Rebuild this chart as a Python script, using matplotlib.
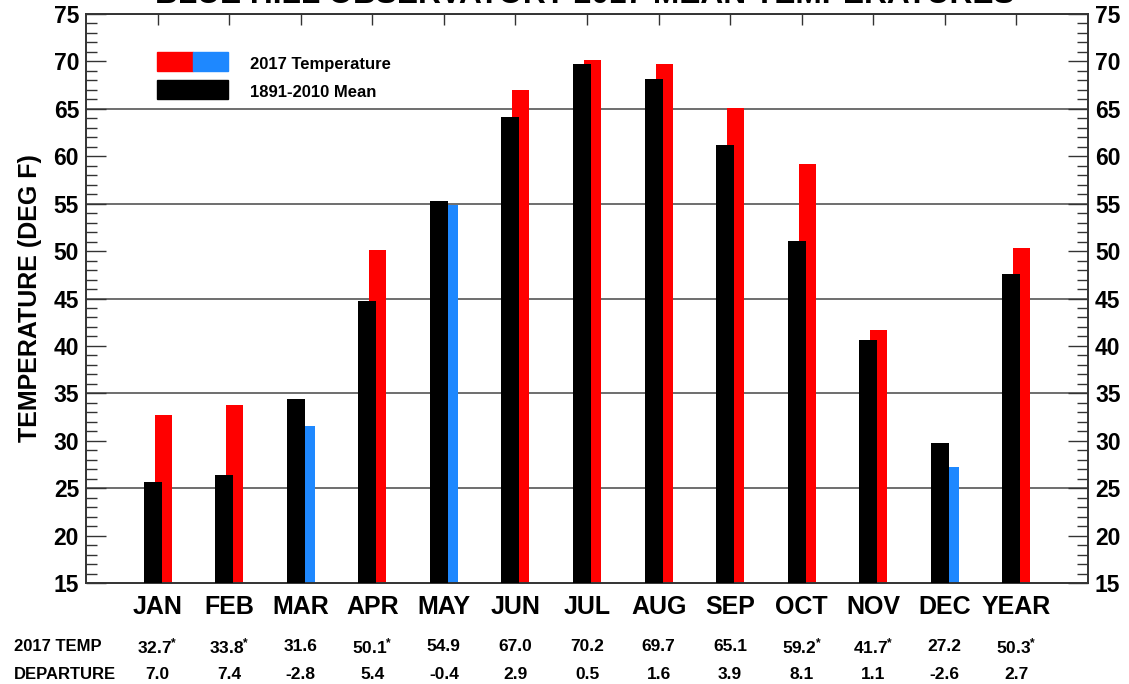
import matplotlib
matplotlib.use("Agg")
import matplotlib.pyplot as plt
import matplotlib.transforms as mtransforms
from matplotlib.patches import Rectangle
from matplotlib.ticker import MultipleLocator

# ---- data ----
months = ["JAN", "FEB", "MAR", "APR", "MAY", "JUN", "JUL", "AUG", "SEP", "OCT", "NOV", "DEC", "YEAR"]
temp_2017 = [32.7, 33.8, 31.6, 50.1, 54.9, 67.0, 70.2, 69.7, 65.1, 59.2, 41.7, 27.2, 50.3]
departure = [7.0, 7.4, -2.8, 5.4, -0.4, 2.9, 0.5, 1.6, 3.9, 8.1, 1.1, -2.6, 2.7]
mean_1891_2010 = [25.7, 26.4, 34.4, 44.7, 55.3, 64.1, 69.7, 68.1, 61.2, 51.1, 40.6, 29.8, 47.6]
record_flag = [1, 1, 0, 1, 0, 0, 0, 0, 0, 1, 1, 0, 1]
grid_levels = [25, 35, 45, 55, 65, 75]
title = "BLUE HILL OBSERVATORY 2017 MEAN TEMPERATURES"

RED = "#ff0000"
BLUE = "#1e88ff"

plt.rcParams["font.family"] = ["Liberation Sans", "DejaVu Sans"]
plt.rcParams["font.weight"] = "bold"
plt.rcParams["mathtext.fontset"] = "custom"
plt.rcParams["mathtext.rm"] = "Liberation Sans:bold"
plt.rcParams["mathtext.it"] = "Liberation Sans:bold"
plt.rcParams["mathtext.bf"] = "Liberation Sans:bold"

fig = plt.figure(figsize=(11.29, 6.84), dpi=100)
ax = fig.add_axes([86 / 1129, 1 - 583 / 684, 1002 / 1129, 569 / 684])

x = list(range(1, len(months) + 1))
colors = [RED if d >= 0 else BLUE for d in departure]
ax.bar([xi + 0.077 for xi in x], temp_2017, width=0.237, color=colors, zorder=2, bottom=0)
ax.bar([xi - 0.07 for xi in x], mean_1891_2010, width=0.25, color="black", zorder=3)

for g in grid_levels:
    ax.axhline(g, color="#555555", lw=1.2, zorder=1)

ax.set_xlim(0, 14)
ax.set_ylim(15, 75)

# ticks
ax.set_xticks(x)
ax.tick_params(axis="x", which="both", bottom=False, top=True, labelbottom=False,
               direction="in", length=8, width=1, color="#333333")
ax.yaxis.set_major_locator(MultipleLocator(5))
ax.yaxis.set_minor_locator(MultipleLocator(1))
ax.tick_params(axis="y", which="major", left=True, right=True, labelleft=True, labelright=True,
               direction="in", length=14.5, width=1, color="#333333", labelsize=16.5, pad=5)
ax.tick_params(axis="y", which="minor", left=True, right=True,
               direction="in", length=8, width=1, color="#333333")
for lab in ax.get_yticklabels():
    lab.set_fontweight("bold")
for s in ax.spines.values():
    s.set_linewidth(1.4)
    s.set_color("#333333")

ax.set_ylabel("TEMPERATURE (DEG F)", fontsize=18, fontweight="bold", labelpad=8)

# title (cut off at top of the image)
fig.text(0.518, 1 - 3 / 684, title, ha="center", va="baseline", fontsize=22.8, fontweight="bold")

# legend drawn manually
ax.add_patch(Rectangle((0.0709, 0.8998), 0.0359, 0.0334, transform=ax.transAxes, color=RED, zorder=5))
ax.add_patch(Rectangle((0.1068, 0.8998), 0.0349, 0.0334, transform=ax.transAxes, color=BLUE, zorder=5))
ax.add_patch(Rectangle((0.0709, 0.8506), 0.0708, 0.0334, transform=ax.transAxes, color="black", zorder=5))
ax.text(0.1637, 0.9104, "2017 Temperature", transform=ax.transAxes, ha="left", va="center",
        fontsize=12, fontweight="bold")
ax.text(0.1637, 0.8612, "1891-2010 Mean", transform=ax.transAxes, ha="left", va="center",
        fontsize=12, fontweight="bold")

# table below the chart
trans = mtransforms.blended_transform_factory(ax.transData, fig.transFigure)
y_month = 1 - 606.5 / 684
y_temp = 1 - 645 / 684
y_dep = 1 - 673 / 684
for xi, m, t, d, f in zip(x, months, temp_2017, departure, record_flag):
    ax.text(xi, y_month, m, transform=trans, ha="center", va="center", fontsize=18,
            fontweight="bold", clip_on=False)
    s = f"{t:.1f}" + (r"$^{*}$" if f else "")
    ax.text(xi, y_temp, s, transform=trans, ha="center", va="center_baseline", fontsize=12.5,
            fontweight="bold", clip_on=False)
    ax.text(xi, y_dep, f"{d:.1f}", transform=trans, ha="center", va="center_baseline", fontsize=12.5,
            fontweight="bold", clip_on=False)

fig.text(14 / 1129, y_temp, "2017 TEMP", ha="left", va="center_baseline", fontsize=12, fontweight="bold")
fig.text(14 / 1129, y_dep, "DEPARTURE", ha="left", va="center_baseline", fontsize=12, fontweight="bold")

fig.savefig("out.png", dpi=100)
